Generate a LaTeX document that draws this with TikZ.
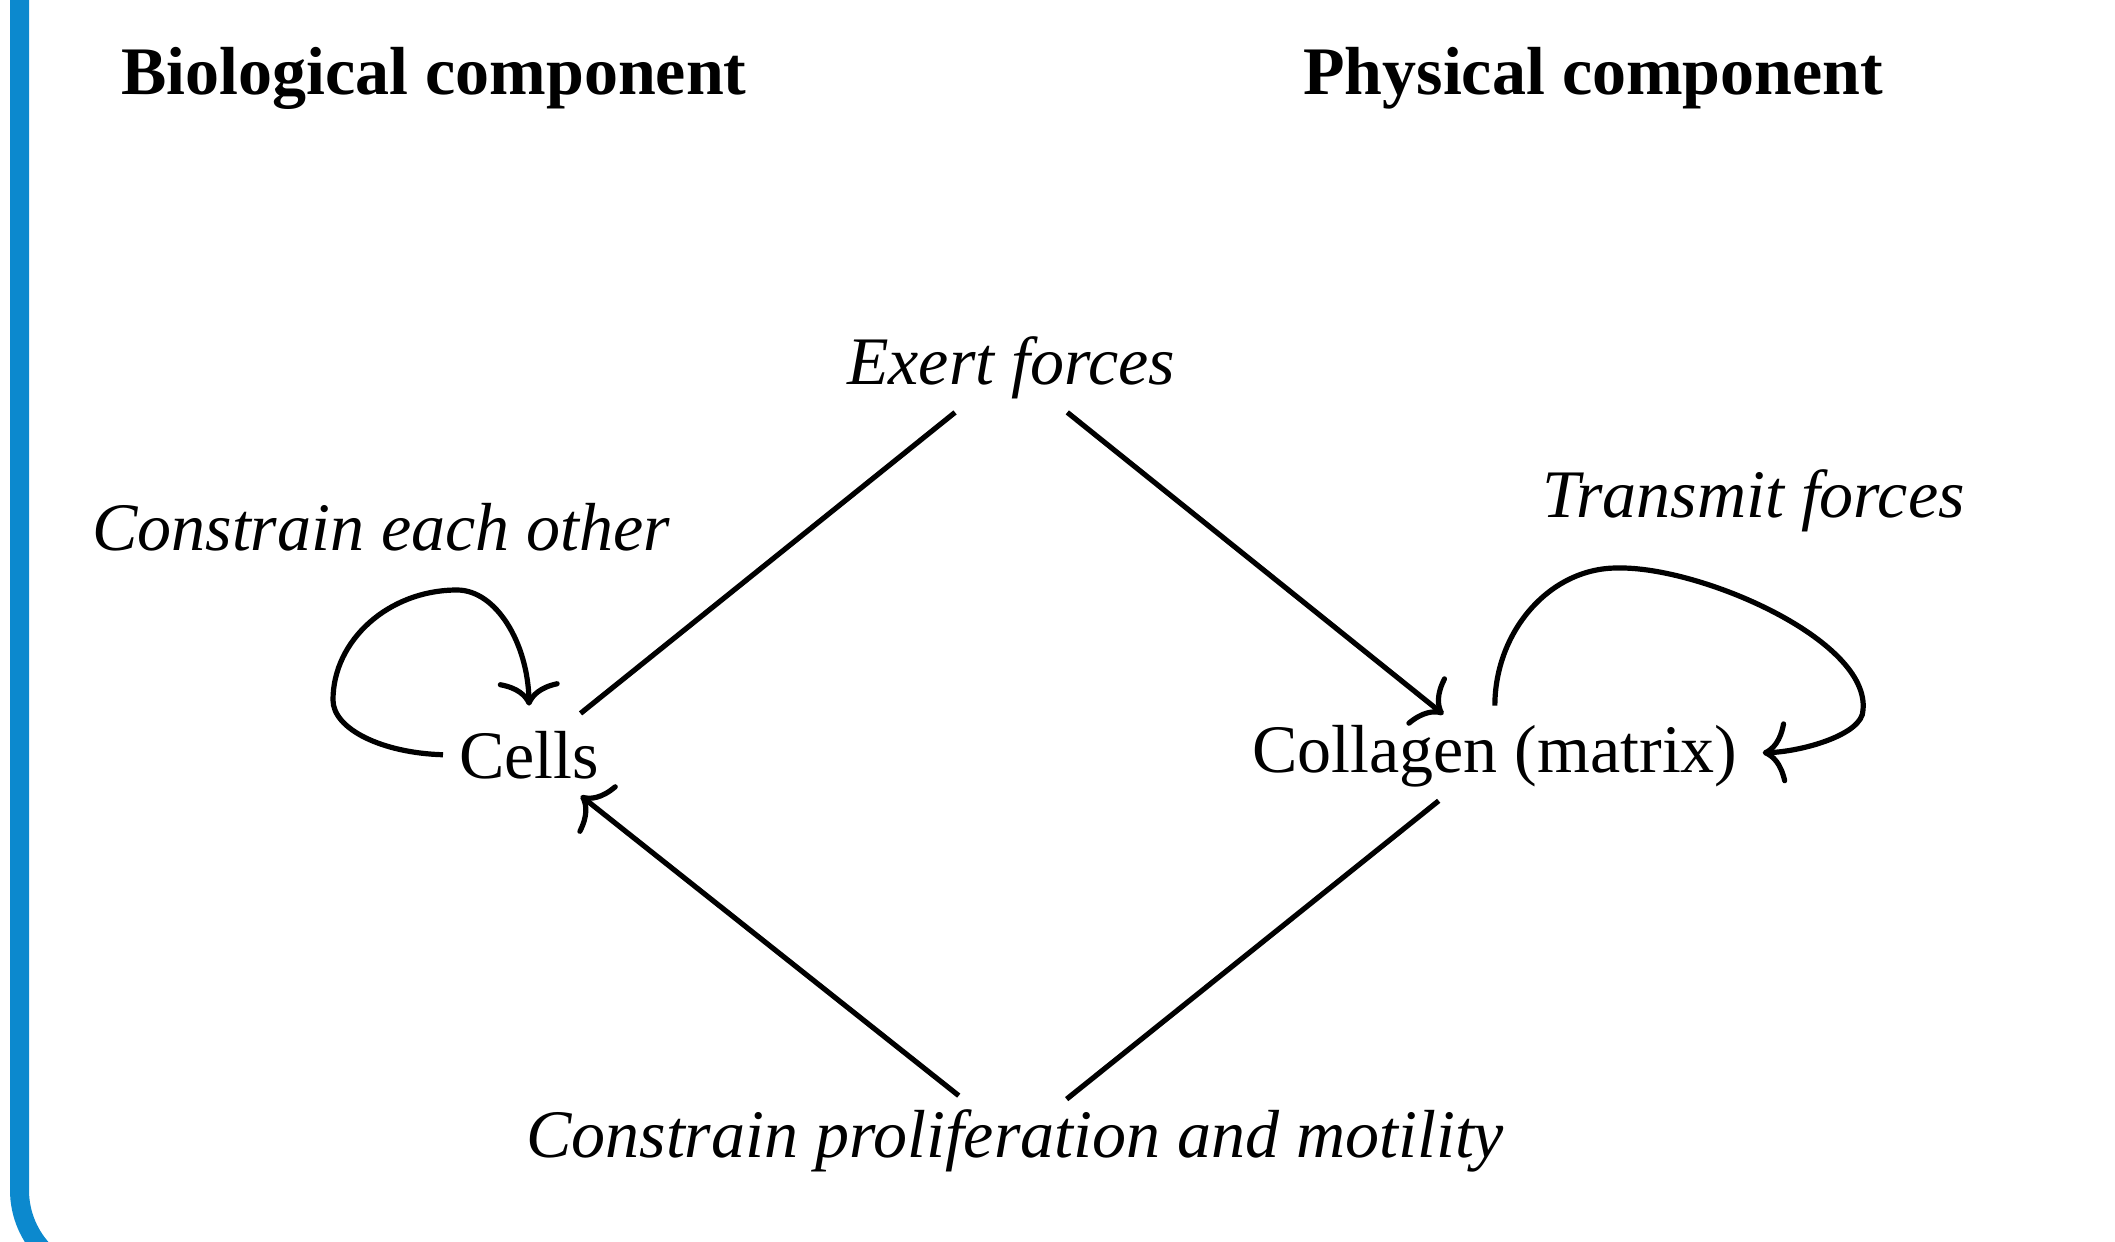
\documentclass[tikz,border=0pt]{standalone}
\usepackage{fontspec}
\setmainfont{Liberation Serif}
\usetikzlibrary{arrows.meta}
\definecolor{frameblue}{RGB}{12,137,206}
\tikzset{
  lbl/.style={inner sep=0pt, anchor=base west, font=\fontsize{68pt}{80pt}\selectfont},
  titletext/.style={lbl, font=\fontsize{68pt}{80pt}\selectfont\bfseries},
  itext/.style={lbl, font=\fontsize{68pt}{80pt}\selectfont\itshape},
  link/.style={line width=5.2pt, shorten <=72pt, shorten >=66pt},
  tipped/.style={-{Computer Modern Rightarrow[length=24pt,width=62pt,line cap=round]}},
  loopline/.style={line width=5.2pt, tipped},
}
\begin{document}
\begin{tikzpicture}[x=1pt,y=-1pt]
\useasboundingbox (0,0) rectangle (2115,1242);
% frame
\draw[frameblue, line width=19pt] (19.5,-30) -- (19.5,1190)
  .. controls (19.5,1239) and (59,1278.5) .. (108,1278.5) -- (2200,1278.5);
% titles
\node[titletext] (bio) at (121,94) {Biological component};
\node[titletext] (phys) at (1303,94) {Physical component};
% labels
\node[itext] (exert) at (847,384) {Exert forces};
\node[itext] (constr) at (92,550) {Constrain each other};
\node[itext] (transm) at (1542,517) {Transmit forces};
\node[itext] (prolif) at (526,1157) {Constrain proliferation and motility};
% main nodes
\node[lbl] (cells) at (459,778) {Cells};
\node[lbl] (coll) at (1252,772) {Collagen (matrix)};
% connectors
\draw[link] (exert.center) -- (cells.center);
\draw[link, tipped] (exert.center) -- (coll.center);
\draw[link] (coll.center) -- (prolif.center);
\draw[link, tipped] (prolif.center) -- (cells.center);
% self loops
\draw[loopline] ([xshift=-16pt]cells.west)
  .. controls (382,753) and (333,729) .. (333,700)
  .. controls (333,640) and (389,590) .. (457,590)
  .. controls (496,590) and (528,643) .. ([yshift=25pt]cells.north);
\draw[loopline] ([yshift=19pt]coll.north)
  .. controls (1495,631) and (1550,568) .. (1617,568)
  .. controls (1700,566) and (1870,640) .. (1863,710)
  .. controls (1863,735) and (1800,752) .. ([xshift=25pt,yshift=3pt]coll.east);
\end{tikzpicture}
\end{document}
